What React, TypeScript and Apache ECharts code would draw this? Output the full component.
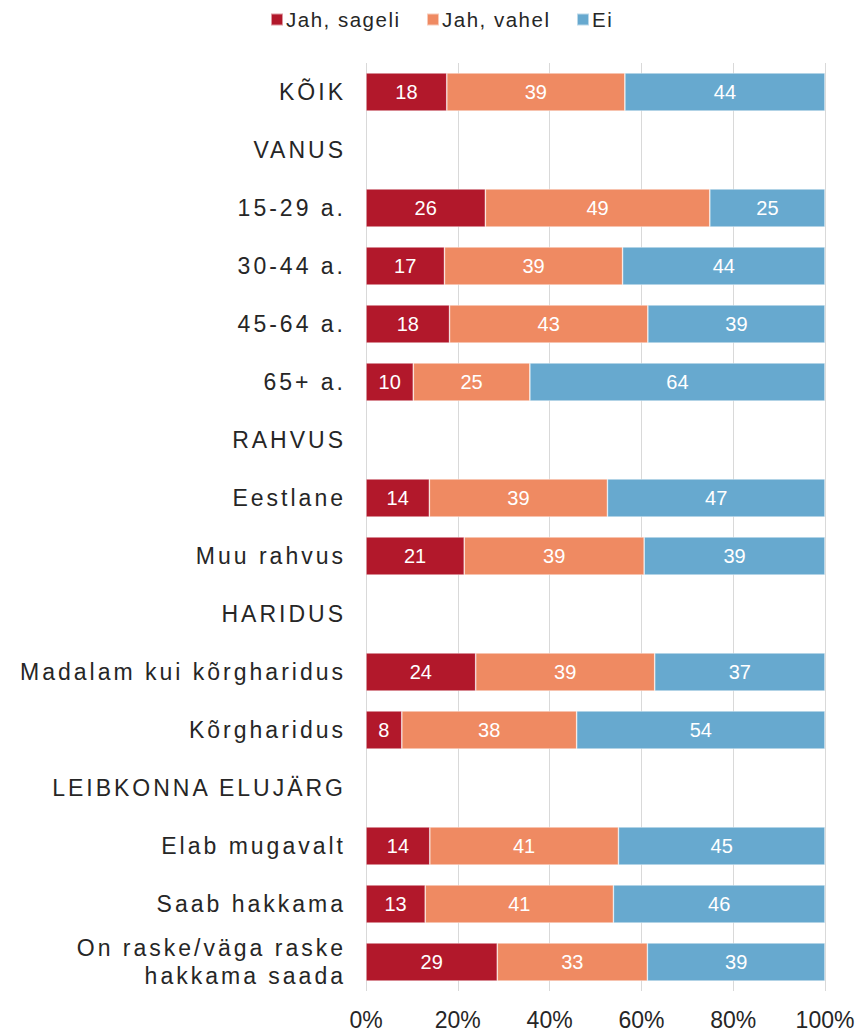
import React, { useEffect, useRef } from "react";
import * as echarts from "echarts";

const categories: string[] = [
  "KÕIK",
  "VANUS",
  "15-29 a.",
  "30-44 a.",
  "45-64 a.",
  "65+ a.",
  "RAHVUS",
  "Eestlane",
  "Muu rahvus",
  "HARIDUS",
  "Madalam kui kõrgharidus",
  "Kõrgharidus",
  "LEIBKONNA ELUJÄRG",
  "Elab mugavalt",
  "Saab hakkama",
  "On raske/väga raske\nhakkama saada",
];

const seriesNames: string[] = ["Jah, sageli", "Jah, vahel", "Ei"];

const sageli: (number | null)[] = [17.6, null, 26.0, 17.1, 18.2, 10.3, null, 13.8, 21.4, null, 23.9, 7.8, null, 13.9, 12.9, 28.6];
const vahel: (number | null)[] = [38.8, null, 48.9, 38.8, 43.2, 25.4, null, 38.8, 39.2, null, 39.0, 38.1, null, 41.1, 41.0, 32.7];
const ei: (number | null)[] = [43.6, null, 25.1, 44.1, 38.6, 64.3, null, 47.4, 39.4, null, 37.1, 54.1, null, 45.0, 46.1, 38.7];

const xTicks: number[] = [0, 20, 40, 60, 80, 100];

const colors = ["#B2182B", "#EF8A62", "#67A9CF"];
const FONT = "'Liberation Sans', Arial, sans-serif";
const TEXT = "#262626";

export default function App() {
  const ref = useRef<HTMLDivElement>(null);

  useEffect(() => {
    document.body.style.margin = "0";
    if (!ref.current) return;
    const chart = echarts.init(ref.current, undefined, { renderer: "svg" });

    const catLines = new Set<string>();
    categories.forEach((c) => c.split("\n").forEach((l) => catLines.add(l)));
    const legendSet = new Set<string>(seriesNames);

    const applySpacing = () => {
      const root = ref.current;
      if (!root) return;
      root.querySelectorAll("text").forEach((t) => {
        const s = (t.textContent || "").trim();
        if (catLines.has(s)) (t as SVGTextElement).style.letterSpacing = "3px";
        else if (legendSet.has(s)) (t as SVGTextElement).style.letterSpacing = "1.5px";
      });
    };

    const seriesData = [sageli, vahel, ei];
    const legendLefts = [270, 426, 576];

    const option: any = {
      animation: false,
      textStyle: { fontFamily: FONT },
      legend: seriesNames.map((n, i) => ({
        data: [n],
        left: legendLefts[i],
        top: 9,
        padding: 0,
        itemWidth: 12,
        itemHeight: 12,
        icon: "rect",
        itemGap: 0,
        selectedMode: false,
        textStyle: { fontSize: 20.5, color: TEXT, fontFamily: FONT, padding: [0, 0, 0, -2] },
      })),
      grid: { left: 366, right: 36, top: 63, bottom: 41, containLabel: false },
      xAxis: {
        type: "value",
        min: xTicks[0],
        max: xTicks[xTicks.length - 1],
        interval: xTicks[1] - xTicks[0],
        axisLine: { show: false },
        axisTick: { show: false },
        splitLine: { show: true, lineStyle: { color: "#D9D9D9", width: 1 } },
        axisLabel: {
          formatter: "{value}%",
          fontSize: 23,
          color: TEXT,
          fontFamily: FONT,
          margin: 17,
        },
      },
      yAxis: {
        type: "category",
        inverse: true,
        data: categories,
        axisLine: { show: false },
        axisTick: { show: false },
        axisLabel: {
          fontSize: 23,
          color: TEXT,
          fontFamily: FONT,
          margin: 20,
          lineHeight: 28,
          align: "right",
        },
      },
      series: seriesNames.map((n, i) => ({
        name: n,
        type: "bar",
        stack: "total",
        barWidth: 38,
        data: seriesData[i],
        itemStyle: { color: colors[i], borderColor: "rgba(255,255,255,0.55)", borderWidth: 0.7 },
        label: {
          show: true,
          position: "inside",
          color: "#FFFFFF",
          fontSize: 20,
          fontFamily: FONT,
          formatter: (p: any) => (p.value == null ? "" : String(Math.round(p.value))),
        },
      })),
    };

    chart.setOption(option);
    applySpacing();
    chart.on("finished", applySpacing);
    const t = window.setTimeout(applySpacing, 50);

    return () => {
      window.clearTimeout(t);
      chart.dispose();
    };
  }, []);

  return <div ref={ref} style={{ width: 861, height: 1032 }} />;
}
